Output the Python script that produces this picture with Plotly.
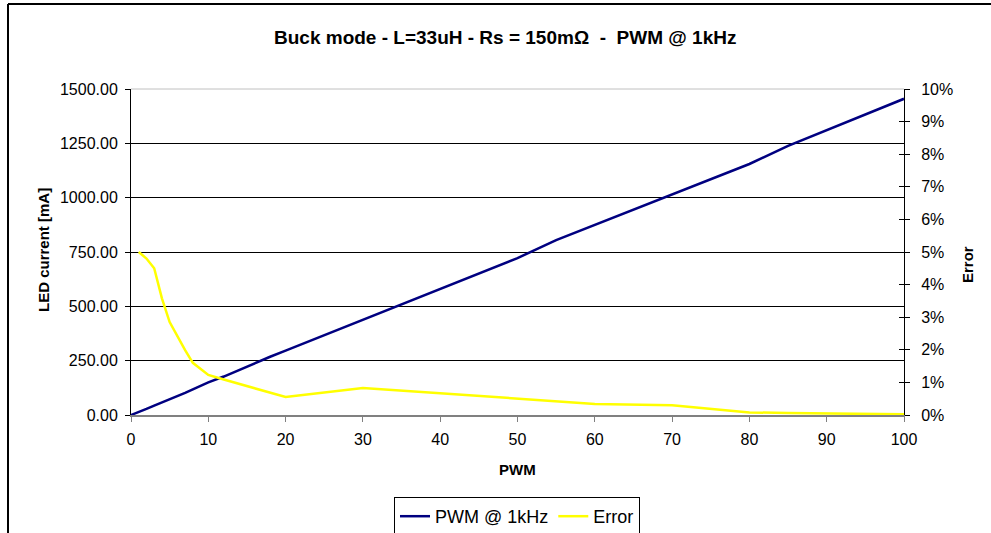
import plotly.graph_objects as go

# ---- data ----
pwm = [0, 1, 2, 3, 4, 5, 6, 7, 8, 9, 10, 12, 14, 16, 18, 20, 30, 40, 50, 55, 60, 70, 80, 85, 90, 100]
led_current = [0, 13, 28, 43, 57, 73, 88, 102, 118, 134, 150, 177, 208, 237, 268, 296,
               437, 580, 722, 805, 875, 1017, 1155, 1238, 1310, 1455]
error_pct = [None, 5.0, 4.8, 4.5, 3.58, 2.85, 2.41, 1.99, 1.6, 1.4, 1.23, 1.09, 0.95, 0.82, 0.68, 0.55,
             0.83, 0.67, 0.5, 0.42, 0.34, 0.3, 0.08, 0.06, 0.04, 0.02]

left_ticks = [0, 250, 500, 750, 1000, 1250, 1500]
right_ticks = list(range(0, 11))
right_labels = [f"{v}%" for v in right_ticks]
x_ticks = list(range(0, 101, 10))

FONT = "Arial, Liberation Sans, sans-serif"

W, H = 991, 533
# plot area in reference pixels
PX0, PX1, PY0, PY1 = 131, 904, 89, 415
L, R, T, B = PX0, W - PX1, PY0, H - PY1


def px(x):
    return (x - PX0) / (PX1 - PX0)


def py(y):
    return (PY1 - y) / (PY1 - PY0)


fig = go.Figure()
fig.add_trace(go.Scatter(x=pwm, y=led_current, mode="lines", name="PWM @ 1kHz",
                         line=dict(color="#000080", width=2.5), yaxis="y"))
fig.add_trace(go.Scatter(x=pwm, y=error_pct, mode="lines", name="Error",
                         line=dict(color="#FFFF00", width=2.5), yaxis="y2"))
fig.add_trace(go.Scatter(x=[None], y=[None], mode="lines", showlegend=False,
                         yaxis="y3", hoverinfo="skip"))

fig.update_layout(
    width=W, height=H,
    margin=dict(l=L, r=R, t=T, b=B),
    paper_bgcolor="white", plot_bgcolor="white",
    font=dict(family=FONT, size=16, color="black"),
    showlegend=True,
    legend=dict(orientation="h", xref="container", yref="container",
                x=517 / W, xanchor="center",
                y=1 - 497 / H, yanchor="top",
                bordercolor="black", borderwidth=1, font=dict(size=18, family=FONT),
                itemwidth=30, bgcolor="white", tracegroupgap=0),
    xaxis=dict(range=[0, 100], tickvals=x_ticks, ticks="outside", ticklen=5,
               tickcolor="#808080", showline=True, linecolor="#808080", linewidth=2,
               showgrid=False, zeroline=False, tickfont=dict(size=16), ticklabelstandoff=4),
    yaxis=dict(range=[0, 1500], tickvals=left_ticks, tickformat=".2f", ticks="outside",
               ticklen=5, tickcolor="black", showline=True, linecolor="black", linewidth=1,
               showgrid=True, gridcolor="black", gridwidth=1, zeroline=False,
               tickfont=dict(size=16), ticklabelstandoff=4),
    yaxis2=dict(range=[0, 10], tickmode="array", tickvals=right_ticks, ticktext=right_labels,
                overlaying="y", side="right", ticks="outside", ticklen=5, tickcolor="black",
                showline=True, linecolor="black", linewidth=1, showgrid=False,
                zeroline=False, tickfont=dict(size=16), ticklabelstandoff=8),
    yaxis3=dict(range=[0, 10], tickmode="array", tickvals=right_ticks, overlaying="y",
                side="right", ticks="inside", ticklen=5, tickcolor="black",
                showticklabels=False, showline=False, showgrid=False, zeroline=False),
)

# top border of plot area (gray)
fig.add_shape(type="line", xref="paper", yref="paper", x0=0, x1=1, y0=1, y1=1,
              line=dict(color="#C0C0C0", width=1), layer="above")
# outer chart frame (only left and top edges are visible)
fig.add_shape(type="line", xref="paper", yref="paper",
              x0=px(8), x1=px(8), y0=py(560), y1=py(4),
              line=dict(color="black", width=2), layer="above")
fig.add_shape(type="line", xref="paper", yref="paper",
              x0=px(8), x1=px(1010), y0=py(4), y1=py(4),
              line=dict(color="black", width=2), layer="above")

# title and axis titles
fig.add_annotation(text="<b>Buck mode - L=33uH - Rs = 150mΩ  -  PWM @ 1kHz</b>",
                   xref="paper", yref="paper", x=px(505), y=py(37),
                   showarrow=False, font=dict(size=19, family=FONT), xanchor="center", yanchor="middle")
fig.add_annotation(text="<b>LED current [mA]</b>", xref="paper", yref="paper",
                   x=px(43), y=py(250), textangle=-90, showarrow=False,
                   font=dict(size=15, family=FONT), xanchor="center", yanchor="middle")
fig.add_annotation(text="<b>Error</b>", xref="paper", yref="paper",
                   x=px(967), y=py(265), textangle=-90, showarrow=False,
                   font=dict(size=15, family=FONT), xanchor="center", yanchor="middle")
fig.add_annotation(text="<b>PWM</b>", xref="paper", yref="paper",
                   x=0.5, y=py(469), showarrow=False,
                   font=dict(size=15, family=FONT), xanchor="center", yanchor="middle")

fig.write_html("out.html", config={"displayModeBar": False},
               post_script="document.body.style.margin='0';document.body.style.overflow='hidden';")
